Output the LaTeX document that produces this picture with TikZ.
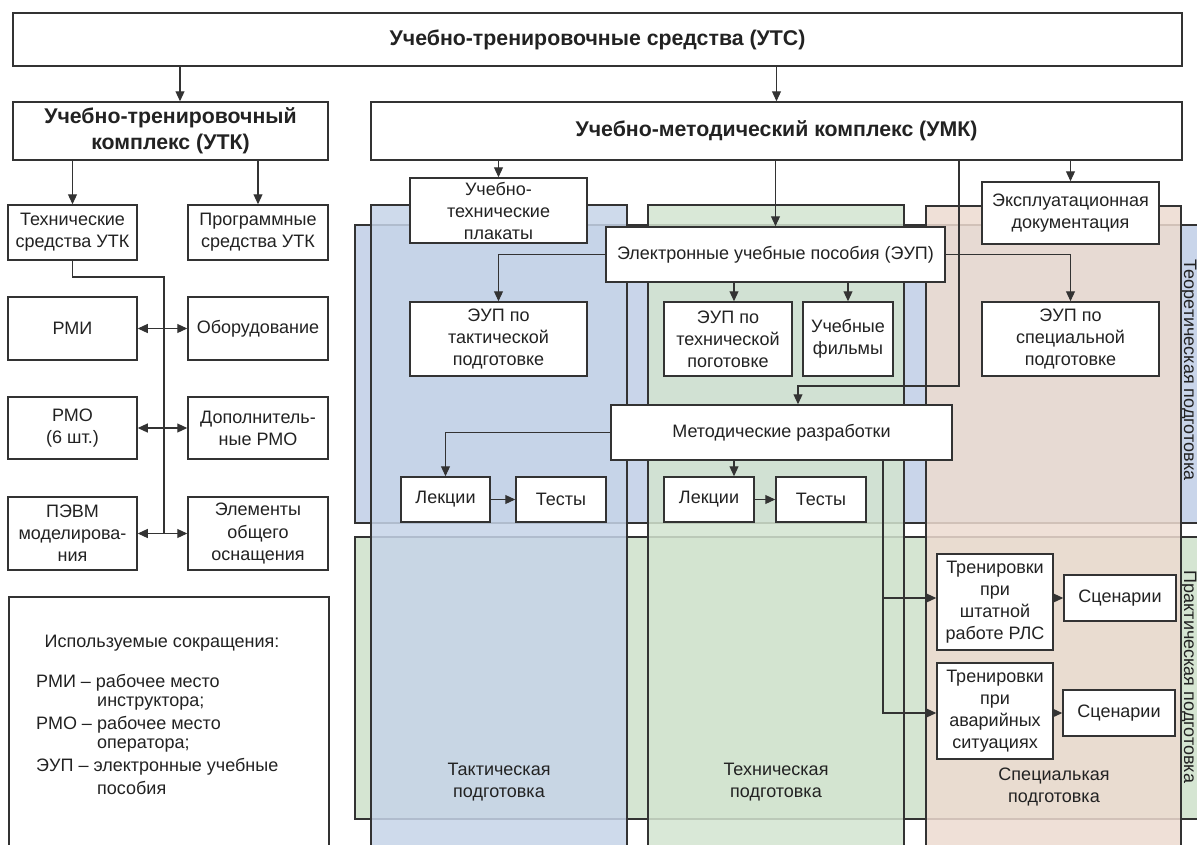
\documentclass[tikz,border=0pt]{standalone}
\usepackage{fontspec}
\setmainfont{Liberation Sans}
\usetikzlibrary{arrows.meta}
\definecolor{lc}{HTML}{333333}
\definecolor{tc}{HTML}{222222}
\definecolor{blueband}{HTML}{C9D5EA}
\definecolor{bluecol}{HTML}{C6D4E8}
\definecolor{greenband}{HTML}{D5E5D2}
\definecolor{greencol}{HTML}{D3E4D0}
\definecolor{peachcol}{HTML}{EDDBD0}
\newcommand\myreg{\fontsize{18}{22}\selectfont}
\newcommand\mybold{\fontsize{21.3}{26}\selectfont\bfseries}
\begin{document}
\begin{tikzpicture}[x=1pt,y=-1pt,
  box/.style={draw=lc, fill=white, line width=1.5pt, align=center, inner sep=0pt, text=tc, font=\myreg},
  title/.style={box, font=\mybold},
  lbl/.style={align=center, inner sep=0pt, text=tc, font=\myreg},
  arr/.style={draw=lc, line width=1.1pt, -{Triangle[length=10pt,width=9pt]}},
  darr/.style={draw=lc, line width=1.1pt, {Triangle[length=10pt,width=9pt]}-{Triangle[length=10pt,width=9pt]}},
  ln/.style={draw=lc, line width=1.1pt},
  bandline/.style={draw=lc, line width=1.2pt},
  col/.style={draw=lc, line width=1.3pt, fill opacity=0.85}]
\useasboundingbox (0,0) rectangle (1197,844);
\fill[white] (0,0) rectangle (1197,844);

% horizontal bands
\fill[blueband] (355,225) rectangle (1215,523);
\draw[bandline] (1215,225) -- (355,225) -- (355,523) -- (1215,523);
\fill[greenband] (355,537) rectangle (1215,819);
\draw[bandline] (1215,537) -- (355,537) -- (355,819) -- (1215,819);
\node[lbl, rotate=-90, anchor=base] (theo) at (1184,370) {Теоретическая подготовка};
\node[lbl, rotate=-90, anchor=base] (prak) at (1184,677) {Практическая подготовка};

% columns
\path[col, fill=bluecol] (371,880) -- (371,205) -- (627,205) -- (627,880);
\path[col, fill=greencol] (648,880) -- (648,205) -- (904,205) -- (904,880);
\path[col, fill=peachcol] (926,880) -- (926,206) -- (1181,206) -- (1181,880);
\draw[lc, line width=1.3pt] (1181,206) -- (1181,880);

% column labels
\node[lbl] (ltak) at (499,782) {Тактическая\\подготовка};
\node[lbl] (ltex) at (776,782) {Техническая\\подготовка};
\node[lbl] (lspe) at (1054,787) {Специалькая\\подготовка};

% top level
\node[title, minimum width=1169, minimum height=53] (uts) at (597.5,39.5) {Учебно-тренировочные средства (УТС)};
\node[title, minimum width=315, minimum height=58] (utk) at (170.5,131) {Учебно-тренировочный\\комплекс (УТК)};
\node[title, minimum width=811, minimum height=58] (umk) at (776.5,131) {Учебно-методический комплекс (УМК)};

% left column
\node[box, minimum width=129, minimum height=55] (tech) at (72.5,232.5) {Технические\\средства УТК};
\node[box, minimum width=140, minimum height=55] (prog) at (258,232.5) {Программные\\средства УТК};
\node[box, minimum width=129, minimum height=63] (rmi) at (72.5,328.5) {РМИ};
\node[box, minimum width=140, minimum height=63] (obor) at (258,328.5) {Оборудование};
\node[box, minimum width=129, minimum height=62] (rmo) at (72.5,428) {РМО\\(6 шт.)};
\node[box, minimum width=140, minimum height=62] (dop) at (258,428) {Дополнитель-\\ные РМО};
\node[box, minimum width=129, minimum height=73] (pevm) at (72.5,533.5) {ПЭВМ\\моделирова-\\ния};
\node[box, minimum width=140, minimum height=73] (elem) at (258,533.5) {Элементы\\общего\\оснащения};

% legend
\node[box, minimum width=320, minimum height=262, anchor=north west] (leg) at (8,596) {};
\node[lbl] (lh) at (162,643) {Используемые сокращения:};
\node[lbl, anchor=west] (la1) at (36,683) {РМИ – рабочее место};
\node[lbl, anchor=west] (la2) at (97,704) {инструктора;};
\node[lbl, anchor=west] (la3) at (36,725) {РМО – рабочее место};
\node[lbl, anchor=west] (la4) at (97,746) {оператора;};
\node[lbl, anchor=west] (la5) at (36,767) {ЭУП – электронные учебные};
\node[lbl, anchor=west] (la6) at (97,788) {пособия};

% UMK part
\node[box, minimum width=177, minimum height=65] (plak) at (498.5,210.5) {Учебно-\\технические\\плакаты};
\node[box, minimum width=339, minimum height=55] (eup) at (775.5,254.5) {Электронные учебные пособия (ЭУП)};
\node[box, minimum width=177, minimum height=62] (expl) at (1070.5,213) {Эксплуатационная\\документация};
\node[box, minimum width=177, minimum height=74] (eupt) at (498.5,339) {ЭУП по\\тактической\\подготовке};
\node[box, minimum width=128, minimum height=74] (eupte) at (728,339) {ЭУП по\\технической\\поготовке};
\node[box, minimum width=90, minimum height=74] (film) at (848,339) {Учебные\\фильмы};
\node[box, minimum width=177, minimum height=74] (eups) at (1070.5,339) {ЭУП по\\специальной\\подготовке};
\node[box, minimum width=341, minimum height=55] (metod) at (781.5,432.5) {Методические разработки};
\node[box, minimum width=89, minimum height=45] (lek1) at (445.5,499.5) {Лекции};
\node[box, minimum width=90, minimum height=45] (test1) at (561,499.5) {Тесты};
\node[box, minimum width=90, minimum height=45] (lek2) at (709,499.5) {Лекции};
\node[box, minimum width=90, minimum height=45] (test2) at (821,499.5) {Тесты};
\node[box, minimum width=116, minimum height=96] (tr1) at (995,602) {Тренировки\\при\\штатной\\работе РЛС};
\node[box, minimum width=112, minimum height=46] (sc1) at (1120,598) {Сценарии};
\node[box, minimum width=116, minimum height=96] (tr2) at (995,711) {Тренировки\\при\\аварийных\\ситуациях};
\node[box, minimum width=112, minimum height=46] (sc2) at (1119,713) {Сценарии};

% helper coordinates
\coordinate (x180) at (180,0);
\coordinate (bus) at (164,277);
\coordinate (x734) at (734,0);
\coordinate (m1) at (959,386);
\coordinate (m2) at (798,386);
\coordinate (v) at (883,0);

% connectors
\draw[arr] (uts.south -| x180) -- (utk.north -| x180);
\draw[arr] (uts.south -| umk.north) -- (umk.north);
\draw[arr] (utk.south -| tech.north) -- (tech.north);
\draw[arr] (utk.south -| prog.north) -- (prog.north);
\draw[ln] (tech.south) |- (bus) -- (bus |- pevm.east);
\draw[darr] (rmi.east) -- (obor.west);
\draw[darr] (rmo.east) -- (dop.west);
\draw[darr] (pevm.east) -- (elem.west);

\draw[arr] (umk.south -| plak.north) -- (plak.north);
\draw[arr] (umk.south -| eup.north) -- (eup.north);
\draw[arr] (umk.south -| expl.north) -- (expl.north);
\draw[arr] (eup.west) -| (eupt.north);
\draw[arr] (eup.south -| x734) -- (eupte.north -| x734);
\draw[arr] (eup.south -| film.north) -- (film.north);
\draw[arr] (eup.east) -| (eups.north);
\draw[arr] (umk.south -| m1) -- (m1) -- (m2) -- (m2 |- metod.north);
\draw[arr] (metod.west) -| (lek1.north);
\draw[arr] (metod.south -| x734) -- (lek2.north -| x734);
\draw[arr] (lek1.east) -- (test1.west);
\draw[arr] (lek2.east) -- (test2.west);
\draw[arr] (metod.south -| v) |- (tr2.west |- sc2.west);
\draw[arr] (v |- sc1.west) -- (tr1.west |- sc1.west);
\draw[arr] (tr1.east |- sc1.west) -- (sc1.west);
\draw[arr] (tr2.east |- sc2.west) -- (sc2.west);
\end{tikzpicture}
\end{document}
